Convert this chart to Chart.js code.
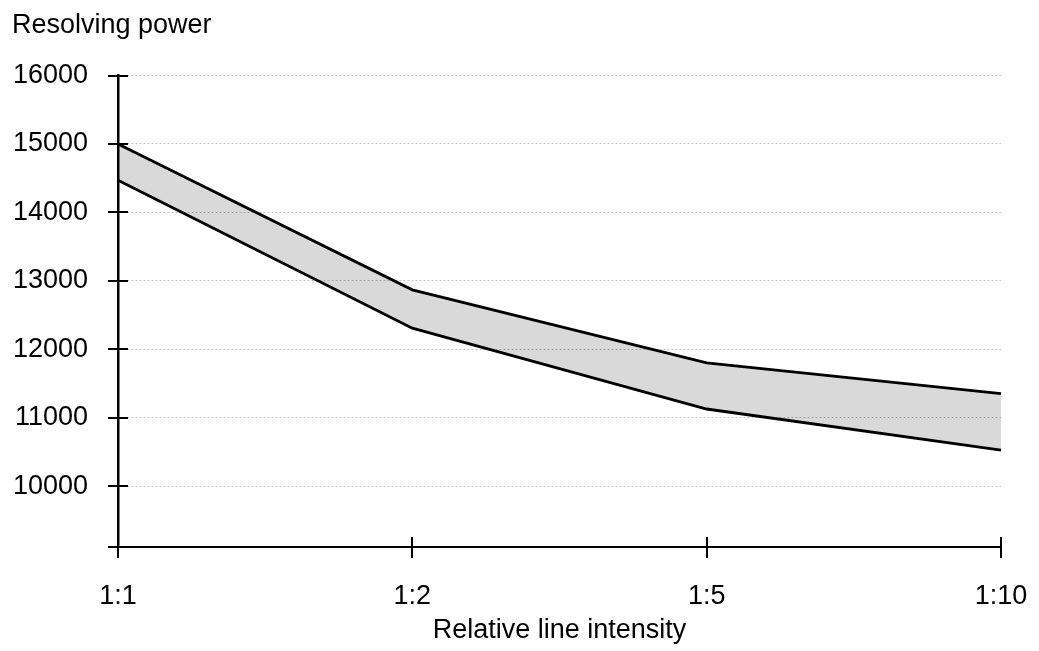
<!DOCTYPE html>
<html>
<head>
<meta charset="utf-8">
<script src="https://cdn.jsdelivr.net/npm/chart.js@4/dist/chart.umd.min.js"></script>
<style>
html,body{margin:0;padding:0;background:#fff;}
#wrap{width:1039px;height:651px;}
</style>
</head>
<body>
<div id="wrap"><canvas id="c" width="1039" height="651"></canvas></div>
<script>
const categories = ['1:1', '1:2', '1:5', '1:10'];
const upperValues = [15000, 12870, 11805, 11355];
const lowerValues = [14470, 12310, 11130, 10530];
const yTickValues = [10000, 11000, 12000, 13000, 14000, 15000, 16000];
const yMin = 9115;
const yMax = 16000;
const yTitle = 'Resolving power';
const xTitle = 'Relative line intensity';

const FONT = "'Liberation Sans', Arial, Helvetica, sans-serif";
const FS = 27;

const crossTicks = {
  id: 'crossTicks',
  afterDraw(chart) {
    const ctx = chart.ctx;
    const xs = chart.scales.x, ys = chart.scales.y;
    const x0 = xs.left, y0 = ys.bottom;
    ctx.save();
    ctx.strokeStyle = '#000';
    ctx.lineWidth = 2;
    ctx.beginPath();
    const yvals = yTickValues.concat([yMin]);
    yvals.forEach(v => {
      const py = Math.round(ys.getPixelForValue(v));
      ctx.moveTo(x0 - 10, py);
      ctx.lineTo(x0 + 10, py);
    });
    categories.forEach((c, i) => {
      const px = Math.round(xs.getPixelForValue(i));
      ctx.moveTo(px, y0 - 10);
      ctx.lineTo(px, y0 + 11);
    });
    ctx.stroke();
    ctx.restore();
  }
};

new Chart(document.getElementById('c'), {
  type: 'line',
  data: {
    labels: categories,
    datasets: [
      {
        label: 'upper',
        data: upperValues,
        borderColor: '#000',
        borderWidth: 2.8,
        backgroundColor: 'rgba(0,0,0,0.15)',
        fill: '+1',
        pointRadius: 0,
        tension: 0
      },
      {
        label: 'lower',
        data: lowerValues,
        borderColor: '#000',
        borderWidth: 2.8,
        backgroundColor: 'rgba(0,0,0,0)',
        fill: false,
        pointRadius: 0,
        tension: 0
      }
    ]
  },
  options: {
    responsive: false,
    animation: false,
    devicePixelRatio: 1,
    layout: { padding: { left: 12, right: 38, top: 0, bottom: 0 } },
    plugins: {
      legend: { display: false },
      tooltip: { enabled: false },
      title: {
        display: true,
        text: yTitle,
        align: 'start',
        color: '#000',
        font: { family: FONT, size: FS, weight: 'normal', lineHeight: 1.2 },
        padding: { top: 9, bottom: 34.1 }
      }
    },
    scales: {
      x: {
        type: 'category',
        offset: false,
        grid: { display: false, drawTicks: false },
        border: { display: true, color: '#000', width: 2 },
        ticks: {
          color: '#000',
          padding: 33,
          maxRotation: 0,
          autoSkip: false,
          font: { family: FONT, size: FS }
        },
        title: {
          display: true,
          text: xTitle,
          color: '#000',
          font: { family: FONT, size: FS },
          padding: { top: 0, bottom: 4 }
        },
        afterFit(scale) {
          scale.height = 104;
          scale.paddingLeft = 0;
          scale.paddingRight = 0;
        }
      },
      y: {
        type: 'linear',
        min: yMin,
        max: yMax,
        afterBuildTicks(scale) {
          scale.ticks = yTickValues.map(v => ({ value: v }));
        },
        grid: { display: true, drawTicks: false, color: '#c4c4c4', lineWidth: 1 },
        border: { display: true, color: '#000', width: 2.5, dash: [2, 2] },
        ticks: {
          color: '#000',
          padding: 30,
          font: { family: FONT, size: FS },
          callback: v => String(v)
        },
        afterFit(scale) { scale.width = 106; }
      }
    }
  },
  plugins: [crossTicks]
});
</script>
</body>
</html>
